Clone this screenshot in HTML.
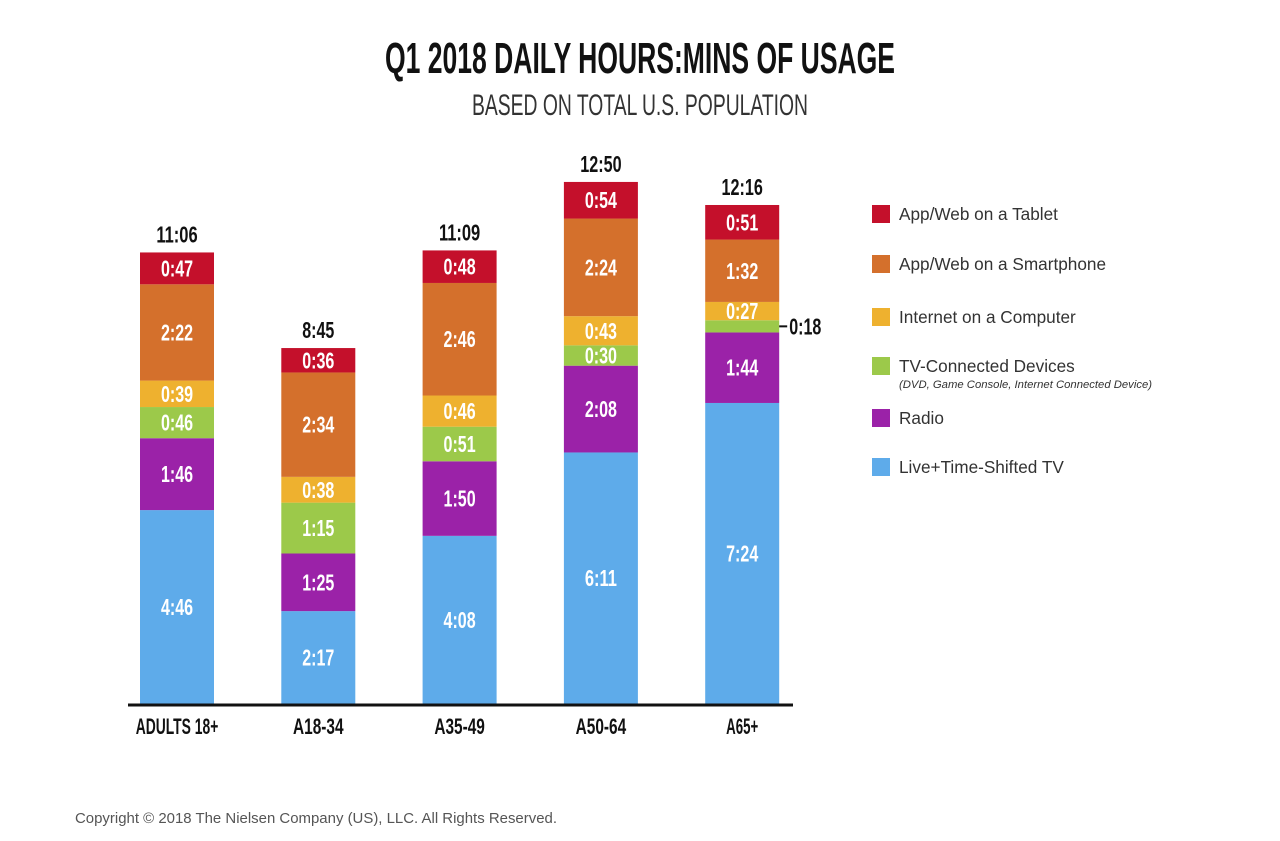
<!DOCTYPE html>
<html><head><meta charset="utf-8">
<style>
html,body{margin:0;padding:0;background:#fff;}
body{width:1280px;height:836px;overflow:hidden;position:relative;}
svg text{font-family:"Liberation Sans Narrow","Liberation Sans",sans-serif;}
</style></head>
<body>
<svg id="chart" width="1280" height="836" xmlns="http://www.w3.org/2000/svg">
<text x="640" y="73" text-anchor="middle" font-size="44" font-weight="bold" fill="#111" textLength="510" lengthAdjust="spacingAndGlyphs">Q1 2018 DAILY HOURS:MINS OF USAGE</text>
<text x="640" y="115" text-anchor="middle" font-size="30" fill="#333" textLength="336" lengthAdjust="spacingAndGlyphs">BASED ON TOTAL U.S. POPULATION</text>
<g id="bars"></g>
<g id="legend"></g>
<line x1="128" y1="705" x2="793" y2="705" stroke="#111" stroke-width="3"/>
<text x="75" y="823" font-size="15" fill="#555" style="font-family:'Liberation Sans',sans-serif" textLength="482" lengthAdjust="spacingAndGlyphs">Copyright © 2018 The Nielsen Company (US), LLC. All Rights Reserved.</text>
</svg>
<script>
const categories = ["ADULTS 18+","A18-34","A35-49","A50-64","A65+"];
const totals = ["11:06","8:45","11:09","12:50","12:16"];
const liveTV = [286,137,248,371,444];
const radio = [106,85,110,128,104];
const tvDevices = [46,75,51,30,18];
const computer = [39,38,46,43,27];
const smartphone = [142,154,166,144,92];
const tablet = [47,36,48,54,51];
const seriesNames = ["Live+Time-Shifted TV","Radio","TV-Connected Devices","Internet on a Computer","App/Web on a Smartphone","App/Web on a Tablet"];
const series = [liveTV,radio,tvDevices,computer,smartphone,tablet];
const colors = ["#5eabea","#9b22a8","#9cc94a","#eeb12f","#d4702c","#c4102b"];

const NS="http://www.w3.org/2000/svg";
const baseY=704, pxPerMin=0.678, barW=74, firstX=140, step=141.3;
const yLen = m => m*pxPerMin;
const xPos = i => firstX + i*step;
const fmt = m => Math.floor(m/60)+":"+String(m%60).padStart(2,"0");
const g=document.getElementById("bars");
function mk(tag,attrs,parent){const e=document.createElementNS(NS,tag);for(const k in attrs)e.setAttribute(k,attrs[k]);parent.appendChild(e);return e;}
const tl = s => (s.replace(/[:\-+ ]/g,"").length*9.2 + (s.match(/[:\-+ ]/g)||[]).length*4.5);
categories.forEach((c,i)=>{
  let y=baseY;
  const x=xPos(i);
  series.forEach((s,j)=>{
    const h=yLen(s[i]);
    y-=h;
    const r=mk("rect",{x:x,y:y,width:barW,height:h,fill:colors[j]},g);
    
    
    const lbl=fmt(s[i]);
    if(h>=18){
      const t=mk("text",{x:x+barW/2,y:y+h/2+8,"text-anchor":"middle","font-size":"23","font-weight":"bold",fill:"#fff",textLength:tl(lbl),lengthAdjust:"spacingAndGlyphs"},g);
      
      
      t.textContent=lbl;
    } else {
      mk("line",{x1:x+barW,y1:y+h/2,x2:x+barW+8,y2:y+h/2,stroke:"#111","stroke-width":"2"},g);
      const t=mk("text",{x:x+barW+10,y:y+h/2+8,"font-size":"23",fill:"#111","font-weight":"bold",textLength:tl(lbl),lengthAdjust:"spacingAndGlyphs"},g);
      
      
      t.textContent=lbl;
    }
  });
  const tt=mk("text",{x:x+barW/2,y:y-10,"text-anchor":"middle","font-size":"23","font-weight":"bold",fill:"#111",textLength:tl(totals[i]),lengthAdjust:"spacingAndGlyphs"},g);
  
  
  tt.textContent=totals[i];
  const cl=mk("text",{x:x+barW/2,y:734,"text-anchor":"middle","font-size":"22","font-weight":"bold",fill:"#111",textLength:tl(c)*1.0,lengthAdjust:"spacingAndGlyphs"},g);
  
  
  cl.textContent=c;
});
const lg=document.getElementById("legend");
const legY=[467,418,366,317,264,214];
seriesNames.forEach((n,j)=>{
  const r=mk("rect",{x:872,y:legY[j]-9,width:18,height:18,fill:colors[j]},lg);
  
  
  const t=mk("text",{x:899,y:legY[j]+6,"font-size":"17.2",fill:"#333",style:"font-family:'Liberation Sans',sans-serif"},lg);
  
  
  t.textContent=n;
});
const sub=mk("text",{x:899,y:388,"font-size":"11.3","font-style":"italic",fill:"#333",style:"font-family:'Liberation Sans',sans-serif"},lg);


sub.textContent="(DVD, Game Console, Internet Connected Device)";
</script>
</body></html>
